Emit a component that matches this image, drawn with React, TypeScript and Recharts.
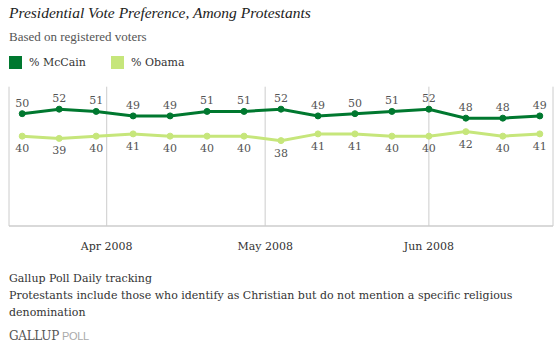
import { LineChart, Line, XAxis, YAxis, CartesianGrid, LabelList } from "recharts";

const weeks = [
  "2008-03-16", "2008-03-23", "2008-03-30", "2008-04-06", "2008-04-13",
  "2008-04-20", "2008-04-27", "2008-05-04", "2008-05-11", "2008-05-18",
  "2008-05-25", "2008-06-01", "2008-06-08", "2008-06-15", "2008-06-22",
];
const mccain = [50, 52, 51, 49, 49, 51, 51, 52, 49, 50, 51, 52, 48, 48, 49];
const obama = [40, 39, 40, 41, 40, 40, 40, 38, 41, 41, 40, 40, 42, 40, 41];
const monthTicks = ["2008-04-01", "2008-05-01", "2008-06-01"];
const monthNames = ["Jan", "Feb", "Mar", "Apr", "May", "Jun", "Jul", "Aug", "Sep", "Oct", "Nov", "Dec"];

const DAY = 86400000;
const toDay = (s: string) => Date.parse(s + "T00:00:00Z") / DAY;

const data = weeks.map((w, i) => ({ day: toDay(w), mccain: mccain[i], obama: obama[i] }));
const tickDays = monthTicks.map(toDay);
const xDomain = [toDay(weeks[0]) - 2.5, toDay(weeks[weeks.length - 1]) + 2.5];

const DARK = "#00782f";
const LIGHT = "#c6e67b";
const SERIF = "'DejaVu Serif', 'Liberation Serif', serif";
const NARROW_SERIF = "'Liberation Serif', serif";

const fmtMonth = (d: number) => {
  const dt = new Date(d * DAY);
  return `${monthNames[dt.getUTCMonth()]} ${dt.getUTCFullYear()}`;
};

const ValueLabel = (dy: number) => (props: any) => {
  const { x, y, value } = props;
  return (
    <text x={x} y={y + dy} textAnchor="middle" fontFamily={SERIF} fontSize={11} fill="#555">
      {value}
    </text>
  );
};

const MonthTick = (props: any) => {
  const { x, y, payload } = props;
  return (
    <text x={x} y={y + 16} textAnchor="middle" fontFamily={SERIF} fontSize={11} fill="#333">
      {fmtMonth(payload.value)}
    </text>
  );
};

export default function App() {
  return (
    <div style={{ position: "fixed", left: 0, top: 0, width: 560, height: 354, background: "#fff", fontFamily: SERIF, color: "#333" }}>
      <div style={{ position: "absolute", left: 9, top: 4, fontSize: 15.5, fontStyle: "italic", color: "#222", fontFamily: NARROW_SERIF }}>
        Presidential Vote Preference, Among Protestants
      </div>
      <div style={{ position: "absolute", left: 9, top: 29, fontSize: 13, color: "#555", fontFamily: NARROW_SERIF }}>
        Based on registered voters
      </div>
      <div style={{ position: "absolute", left: 9, top: 56, fontSize: 11, display: "flex", alignItems: "center" }}>
        <span style={{ width: 13, height: 13, background: DARK, display: "inline-block", marginRight: 7 }} />
        <span style={{ width: 82 }}>% McCain</span>
        <span style={{ width: 13, height: 13, background: LIGHT, display: "inline-block", marginRight: 7 }} />
        <span>% Obama</span>
      </div>

      <div style={{ position: "absolute", left: 0, top: 0 }}>
        <LineChart width={560} height={260} data={data} margin={{ top: 86.7, left: 9, right: 7, bottom: 4 }}>
          <CartesianGrid horizontal={false} stroke="#cccccc" />
          <XAxis
            dataKey="day"
            type="number"
            domain={xDomain}
            ticks={tickDays}
            tick={<MonthTick />}
            tickLine={false}
            axisLine={{ stroke: "#cccccc", strokeWidth: 1.5 }}
            height={30}
          />
          <YAxis hide domain={[0, 62]} />
          <Line
            dataKey="mccain"
            stroke={DARK}
            strokeWidth={3}
            dot={{ r: 3, fill: DARK, stroke: DARK, strokeWidth: 1 }}
            isAnimationActive={false}
          >
            <LabelList dataKey="mccain" content={ValueLabel(-7)} />
          </Line>
          <Line
            dataKey="obama"
            stroke={LIGHT}
            strokeWidth={3}
            dot={{ r: 3, fill: LIGHT, stroke: LIGHT, strokeWidth: 1 }}
            isAnimationActive={false}
          >
            <LabelList dataKey="obama" content={ValueLabel(16)} />
          </Line>
        </LineChart>
      </div>

      <div style={{ position: "absolute", left: 9, top: 270, fontSize: 11, lineHeight: "17px", color: "#333", width: 520 }}>
        <div>Gallup Poll Daily tracking</div>
        <div>Protestants include those who identify as Christian but do not mention a specific religious</div>
        <div>denomination</div>
      </div>
      <div style={{ position: "absolute", left: 9, top: 329, fontSize: 12, letterSpacing: -0.3 }}>
        <span style={{ color: "#555" }}>GALLUP</span>
        <span style={{ color: "#aaa", fontFamily: "'Liberation Sans', sans-serif", fontSize: 11, marginLeft: 3 }}>POLL</span>
      </div>
    </div>
  );
}
